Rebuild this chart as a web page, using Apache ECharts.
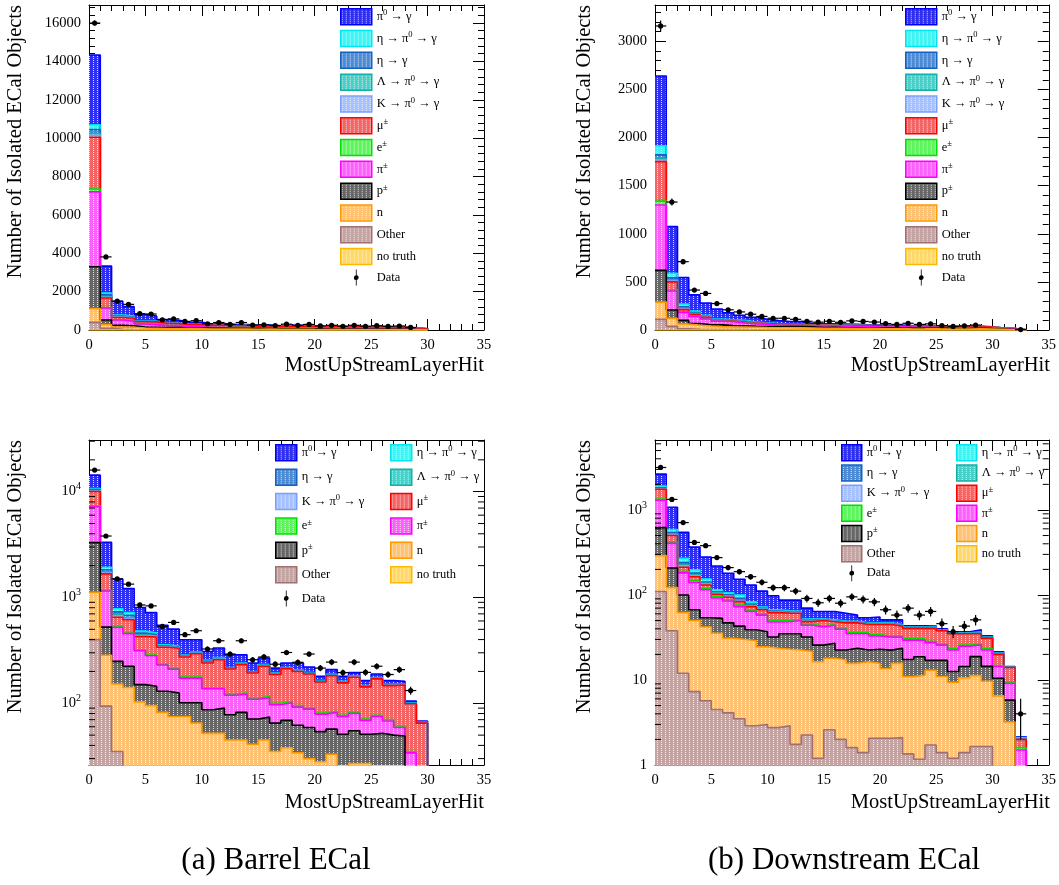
<!DOCTYPE html>
<html><head><meta charset="utf-8">
<script src="https://cdn.jsdelivr.net/npm/echarts@6/dist/echarts.min.js"></script>
<style>html,body{margin:0;padding:0;background:#fff}#c{width:1059px;height:885px}</style>
</head><body><div id="c"></div>
<script>
// ---------------- DATA (bin i covers [i, i+1) of MostUpStreamLayerHit) ----------------
// Barrel ECal, bins 0..29
const barrelPi0     = [3630,1400,708,495,324,261,188,157,112,93,54,63,70,48,40,36,22,22,34,25,16,20,19,14,17,14,13,8,4,2];
const barrelEtaPi0  = [250,100,51,43,21,15,7,6,4,4,6,4,3,3,3,3,2,2,2,2,2,2,2,2,1,2,1,1,1,1];
const barrelEtaG    = [200,80,40,32,16,11,5,4,4,3,5,4,2,3,2,3,2,2,2,2,1,2,1,1,1,1,1,1,1,0];
const barrelLambda  = [100,40,20,16,8,6,3,2,2,2,2,2,1,1,1,1,1,1,1,1,1,1,1,1,1,1,1,1,0,0];
const barrelK       = [100,40,20,16,8,6,3,2,2,2,2,2,1,1,1,1,1,1,1,1,1,1,1,1,1,1,1,1,0,0];
const barrelMu      = [2700,505,119,154,108,137,105,117,97,117,100,118,89,107,81,108,87,108,105,99,78,98,79,94,72,93,77,88,64,50];
const barrelE       = [150,15,12,6,6,5,4,4,4,4,3,3,3,3,3,3,3,3,3,2,2,2,2,2,2,2,2,2,1,1];
const barrelPi      = [3900,625,271,231,164,136,100,85,72,72,50,47,41,40,38,39,32,32,30,29,25,25,24,25,18,23,18,10,12,6];
const barrelP       = [2180,241,97,83,47,50,48,50,26,36,35,38,33,37,30,29,30,31,28,29,26,24,26,28,24,28,28,29,10,5];
const barrelN       = [720,190,117,123,91,85,73,67,68,58,46,46,40,40,36,40,31,34,30,26,25,30,22,24,24,21,19,18,10,2];
const barrelOther   = [400,94,35,18,12,10,9,8,7,7,6,6,5,5,5,5,4,4,4,4,3,3,3,3,3,3,3,2,2,1];
const barrelNoTruth = [0,0,0,0,0,0,0,0,0,0,0,0,0,0,0,0,0,0,0,0,0,0,0,0,0,0,0,0,0,0];
const barrelData    = [16000,3810,1500,1337,850,833,533,581,445,485,326,390,292,390,258,274,234,302,244,292,215,245,195,245,196,224,187,208,132,null];

// Downstream ECal, bins 0..32
const downPi0     = [725,485,275,167,126,104,74,53,48,39,31,22,23,18,12,13,12,9,7,8,4,6,1.5,1.5,1,1,1,1,2.5,1,0.8,0.2,0.05];
const downEtaPi0  = [95,48,30,17,12,6,5.5,8.5,5,2.3,2.3,1.9,1.4,1.7,0.9,1.2,0.9,0.9,0.9,0.9,0.9,0.9,0.7,0.7,0.7,0.5,0.5,0.5,0.7,0.5,0.3,0.1,0.1];
const downEtaG    = [35,20,13,8,5,3,3,4,2.5,1.2,1.2,1,0.7,0.8,0.5,0.6,0.5,0.5,0.5,0.5,0.5,0.5,0.4,0.4,0.4,0.2,0.2,0.2,0.4,0.2,0.2,0.1,0];
const downLambda  = [15,10,7,4,3,2,1.5,2,1,0.7,0.7,0.5,0.4,0.5,0.3,0.3,0.3,0.3,0.3,0.3,0.3,0.3,0.2,0.2,0.2,0.1,0.1,0.1,0.2,0.1,0.1,0,0];
const downK       = [20,12,8,5,3,2,2,2,1.5,0.8,0.8,0.6,0.5,0.5,0.3,0.4,0.3,0.3,0.3,0.3,0.3,0.3,0.2,0.2,0.2,0.2,0.2,0.2,0.2,0.2,0.1,0,0];
const downMu      = [410,82,22,17,11,6,6,7.5,7,7,12,11,10,3.5,7,3.5,6.5,11,9,11,12,10,10,10,12,11.5,11.8,9.2,8.5,7.8,5.2,4.6,0.4];
const downE       = [40,13,8,7,5,4,3,3,2,2,2,1.5,1,1,1,1,1,1,1,1,1,1,1,1,1,0.8,0.7,0.8,0.8,0.7,0.4,0.3,0.1];
const downPi      = [680,197,82,73,61,39,38,30,25,21,16,13.5,15,12,16.3,17,17,11.4,12.5,10,9.5,8.4,12,10.7,10.5,8.7,9.9,10.6,6.9,8.1,3.9,3.3,1.5];
const downP       = [330,86,38,17,12,17.5,16,13,10,12.5,8.4,12,12.5,10.5,9.3,9,5.3,7.9,6.1,7.3,8.8,7.9,6.5,7.4,4,6,3.2,3.8,7.6,4.8,4,2.6,0];
const downN       = [180,84,50,42.7,36.3,31,26.9,26.5,26.1,21.5,20.9,20.1,20.8,19.3,15.2,15.4,15.2,14.1,15,13.6,11.6,13.6,9.6,10.2,11.3,9.6,8.2,9.2,9.6,8,6.5,3.2,0];
const downOther   = [110,38,12,7.3,5.7,4.5,4.1,3.5,2.9,3.0,2.75,2.9,1.75,2.25,1.2,2.6,2.0,1.6,1.4,2.06,2.06,2.1,1.35,1.17,1.72,1.4,1.2,1.4,1.65,1.65,0,0,0];
const downNoTruth = [0,0,0,0,0,0,0,0,0,0,0,0,0,0,0,0,0,0,0,0,0,0,0,0,0,0,0,0,0,0,0,0,0];
const downData    = [3160,1330,710,415,380,275,210,188,164,141,122,122,111,91,81,91,80,95,89,83,67,58,70,58,64,46,37,43,51,null,null,null,4];

// legend order = top of stack first
const categories = ['pi0','etaPi0','etaG','lam','K','mu','e','pi','p','n','other','notruth'];
const categoryLabels = {
  pi0:'π{s|0} → γ', etaPi0:'η → π{s|0} → γ', etaG:'η → γ', lam:'Λ → π{s|0} → γ',
  K:'K → π{s|0} → γ', mu:'μ{s|±}', e:'e{s|±}', pi:'π{s|±}', p:'p{s|±}', n:'n',
  other:'Other', notruth:'no truth', Data:'Data'
};
const captions = ['(a) Barrel ECal', '(b) Downstream ECal'];
const xTitle = 'MostUpStreamLayerHit';
const yTitle = 'Number of Isolated ECal Objects';

// ---------------- STYLE ----------------
const SERIF = '"Liberation Serif", "Times New Roman", serif';
const STYLE = {
  pi0:{fill:'#2f2ff2', line:'#0000ff'},
  etaPi0:{fill:'#40f4f4', line:'#00e6ee'},
  etaG:{fill:'#4b8bd6', line:'#1462c2'},
  lam:{fill:'#48cfc8', line:'#12b0a8'},
  K:{fill:'#a5c1ff', line:'#7aa0ff'},
  mu:{fill:'#f56464', line:'#ff0000'},
  e:{fill:'#5cf55c', line:'#00e000'},
  pi:{fill:'#fa62fa', line:'#ff00ff'},
  p:{fill:'#666666', line:'#000000'},
  n:{fill:'#ffc172', line:'#ff9900'},
  other:{fill:'#c4a3a3', line:'#a07070'},
  notruth:{fill:'#ffd86a', line:'#ffb800'}
};
function pattern(color) {
  const c = document.createElement('canvas'); c.width = 4; c.height = 4;
  const g = c.getContext('2d');
  g.fillStyle = color; g.fillRect(0, 0, 4, 4);
  g.fillStyle = 'rgba(255,255,255,0.8)'; g.fillRect(1, 0, 1, 1); g.fillRect(1, 2, 1, 1);
  return {image: c, repeat: 'repeat'};
}
const PAT = {}; categories.forEach(k => PAT[k] = pattern(STYLE[k].fill));

const barrel = {pi0:barrelPi0, etaPi0:barrelEtaPi0, etaG:barrelEtaG, lam:barrelLambda, K:barrelK, mu:barrelMu, e:barrelE, pi:barrelPi, p:barrelP, n:barrelN, other:barrelOther, notruth:barrelNoTruth};
const down = {pi0:downPi0, etaPi0:downEtaPi0, etaG:downEtaG, lam:downLambda, K:downK, mu:downMu, e:downE, pi:downPi, p:downP, n:downN, other:downOther, notruth:downNoTruth};

// ---------------- SERIES BUILDERS ----------------
function histSeries(set, xi, yi, isLog) {
  const n = set.pi0.length;
  const floor = isLog ? 1e-3 : 0;
  const bottomUp = categories.slice().reverse();
  let run = new Array(n).fill(0);
  const cums = {};
  bottomUp.forEach(k => { run = run.map((v, i) => v + set[k][i]); cums[k] = run.slice(); });
  return categories.map(k => {
    const pts = cums[k].map((v, i) => [i, v > 0 ? v : floor]);
    pts.push([n, pts[n - 1][1]], [n, floor]);
    const st = STYLE[k];
    return {
      type:'line', name:k, xAxisIndex:xi, yAxisIndex:yi, data:pts, step:'end',
      symbol:'none', showSymbol:false, clip:true, silent:true, animation:false,
      lineStyle:{color:st.line, width:1.6}, itemStyle:{color:st.fill},
      areaStyle:{color:PAT[k], opacity:1, origin:'start'}, emphasis:{disabled:true}, z:2
    };
  });
}
function dataSeries(vals, xi, yi) {
  const pts = [];
  vals.forEach((v, i) => { if (v != null) pts.push([i + 0.5, v]); });
  return {
    type:'custom', name:'Data', xAxisIndex:xi, yAxisIndex:yi, data:pts, z:10, silent:true, animation:false,
    renderItem(params, api) {
      const x = api.value(0), y = api.value(1);
      const c = api.coord([x, y]);
      const l = api.coord([x - 0.5, y]), r = api.coord([x + 0.5, y]);
      const er = Math.sqrt(y);
      const lo = api.coord([x, Math.max(y - er, 1e-3)]), hi = api.coord([x, y + er]);
      const cs = params.coordSys;
      const yb = Math.min(lo[1], cs.y + cs.height);
      return {type:'group', children:[
        {type:'line', shape:{x1:l[0], y1:c[1], x2:r[0], y2:c[1]}, style:{stroke:'#000', lineWidth:1.2}},
        {type:'line', shape:{x1:c[0], y1:yb, x2:c[0], y2:hi[1]}, style:{stroke:'#000', lineWidth:1.2}},
        {type:'circle', shape:{cx:c[0], cy:c[1], r:2.6}, style:{fill:'#000'}}
      ]};
    }
  };
}
function logMinorSeries(xi, yi, lo, hi) {
  const vals = [];
  [0.1, 1, 10, 100, 1000, 10000].forEach(d => { for (let m = 2; m <= 9; m++) { const v = m * d; if (v > lo && v < hi) vals.push([1, v]); } });
  return {
    type:'custom', name:'minor', xAxisIndex:xi, yAxisIndex:yi, data:vals, z:12, silent:true, animation:false,
    renderItem(params, api) {
      const p = api.coord([1, api.value(1)]);
      const cs = params.coordSys;
      return {type:'group', children:[
        {type:'line', shape:{x1:cs.x, y1:p[1], x2:cs.x + 6, y2:p[1]}, style:{stroke:'#000', lineWidth:1}},
        {type:'line', shape:{x1:cs.x + cs.width, y1:p[1], x2:cs.x + cs.width - 6, y2:p[1]}, style:{stroke:'#000', lineWidth:1}}
      ]};
    }
  };
}

// ---------------- AXES ----------------
const grids = [
  {left:89, top:5, width:395, height:325},
  {left:655, top:5, width:395, height:325},
  {left:89, top:440, width:395, height:325},
  {left:655, top:440, width:395, height:325}
];
const black = {color:'#000', width:1};
function xAxes(g) {
  const base = {type:'value', gridIndex:g, min:0, max:35, interval:5,
    axisLine:{show:true, onZero:false, lineStyle:black},
    axisTick:{show:true, inside:true, length:11, lineStyle:black},
    minorTick:{show:true, splitNumber:5, length:6, lineStyle:black},
    splitLine:{show:false}, minorSplitLine:{show:false}};
  return [
    Object.assign({}, base, {position:'bottom', axisLabel:{show:true, fontFamily:SERIF, fontSize:14.5, color:'#000', margin:8}}),
    Object.assign({}, base, {position:'top', axisLabel:{show:false}})
  ];
}
function supLabel(first) {
  return v => {
    const e = Math.round(Math.log10(v));
    if (Math.abs(Math.log10(v) - e) > 1e-6) return '';
    if (first && e === 0) return '1';
    if (first && e === 1) return '10';
    return '10{s|' + e + '}';
  };
}
function yAxes(g, cfg) {
  const base = {gridIndex:g, axisLine:{show:true, onZero:false, lineStyle:black},
    axisTick:{show:true, inside:true, length:11, lineStyle:black},
    splitLine:{show:false}, minorSplitLine:{show:false}};
  let spec;
  if (cfg.log) {
    spec = {type:'log', logBase:10, min:cfg.min, max:cfg.max, minorTick:{show:false}};
  } else {
    spec = {type:'value', min:0, max:cfg.max, interval:cfg.interval,
      minorTick:{show:true, splitNumber:5, length:6, lineStyle:black}};
  }
  const lab = {show:true, fontFamily:SERIF, fontSize:14.5, color:'#000', margin:8, showMaxLabel:false,
    formatter: cfg.log ? supLabel(cfg.smallLabels) : (v => String(v)),
    lineHeight:20, rich:{s:{fontFamily:SERIF, fontSize:10, color:'#000', verticalAlign:'top'}}};
  return [
    Object.assign({}, base, spec, {position:'left', axisLabel:lab}),
    Object.assign({}, base, spec, {position:'right', axisLabel:{show:false}})
  ];
}
const yCfg = [
  {log:false, max:16940, interval:2000},
  {log:false, max:3378, interval:500},
  {log:true, min:26.1, max:30800, smallLabels:false},
  {log:true, min:1, max:6650, smallLabels:true}
];

// ---------------- LEGENDS ----------------
const DATA_ICON = 'path://M9.5,0H10.5V7.05A3,3,0,0,1,10.5,12.95V20H9.5V12.95A3,3,0,0,1,9.5,7.05Z';
function legendItem(k) {
  if (k === 'Data') return {name:'Data', icon:DATA_ICON, itemStyle:{color:'#000', borderWidth:0}};
  return {name:k, icon:'rect', itemStyle:{color:PAT[k], borderColor:STYLE[k].line, borderWidth:1.5}};
}
function legend(names, left, top, w, h, gap) {
  return {show:true, orient:'vertical', left, top, itemWidth:w, itemHeight:h, itemGap:gap, padding:0,
    selectedMode:false, data:names.map(legendItem), formatter: nm => categoryLabels[nm],
    textStyle:{fontFamily:SERIF, fontSize:12.5, color:'#000', lineHeight:16,
      rich:{s:{fontFamily:SERIF, fontSize:8.5, color:'#000', verticalAlign:'top'}}}};
}
const allNames = categories.concat(['Data']);
const col1 = ['pi0','etaG','K','e','p','other','Data'];
const col2 = ['etaPi0','lam','mu','pi','n','notruth'];

// ---------------- ASSEMBLE ----------------
const xAxis = [], yAxis = [], series = [];
for (let g = 0; g < 4; g++) {
  xAxis.push(...xAxes(g));
  yAxis.push(...yAxes(g, yCfg[g]));
}
const sets = [barrel, down, barrel, down];
const dataSets = [barrelData, downData, barrelData, downData];
for (let g = 0; g < 4; g++) {
  series.push(...histSeries(sets[g], 2 * g, 2 * g, yCfg[g].log));
  series.push(dataSeries(dataSets[g], 2 * g, 2 * g));
  if (yCfg[g].log) series.push(logMinorSeries(2 * g, 2 * g, yCfg[g].min, yCfg[g].max));
}

const graphic = [];
[[16, 5], [585, 5], [16, 440], [585, 440]].forEach(([x, y]) => graphic.push({
  type:'text', x, y, rotation:Math.PI / 2, silent:true,
  style:{text:yTitle, fill:'#000', font:'20.5px ' + SERIF, align:'right', verticalAlign:'middle', textAlign:'right', textVerticalAlign:'middle'}
}));
[[484, 366], [1050, 366], [484, 803], [1050, 803]].forEach(([x, y]) => graphic.push({
  type:'text', x, y, silent:true,
  style:{text:xTitle, fill:'#000', font:'20.5px ' + SERIF, align:'right', verticalAlign:'middle', textAlign:'right', textVerticalAlign:'middle'}
}));
[[276, 861], [844, 861]].forEach(([x, y], i) => graphic.push({
  type:'text', x, y, silent:true,
  style:{text:captions[i], fill:'#000', font:'31px ' + SERIF, align:'center', verticalAlign:'middle', textAlign:'center', textVerticalAlign:'middle'}
}));

const option = {
  animation:false,
  backgroundColor:'#fff',
  grid: grids.map(g => Object.assign({show:false, containLabel:false}, g)),
  xAxis, yAxis, series, graphic,
  legend: [
    legend(allNames, 340, 8, 31, 16, 4.3),
    legend(allNames, 905, 8, 31, 16, 4.3),
    legend(col1, 275, 444, 21, 16, 6.9),
    legend(col2, 390, 444, 21, 16, 6.9),
    legend(col1, 841, 444, 20, 16, 2.7),
    legend(col2, 956, 444, 20, 16, 2.7)
  ]
};
const chart = echarts.init(document.getElementById('c'), null, {renderer:'canvas'});
chart.setOption(option);
</script>
</body></html>
